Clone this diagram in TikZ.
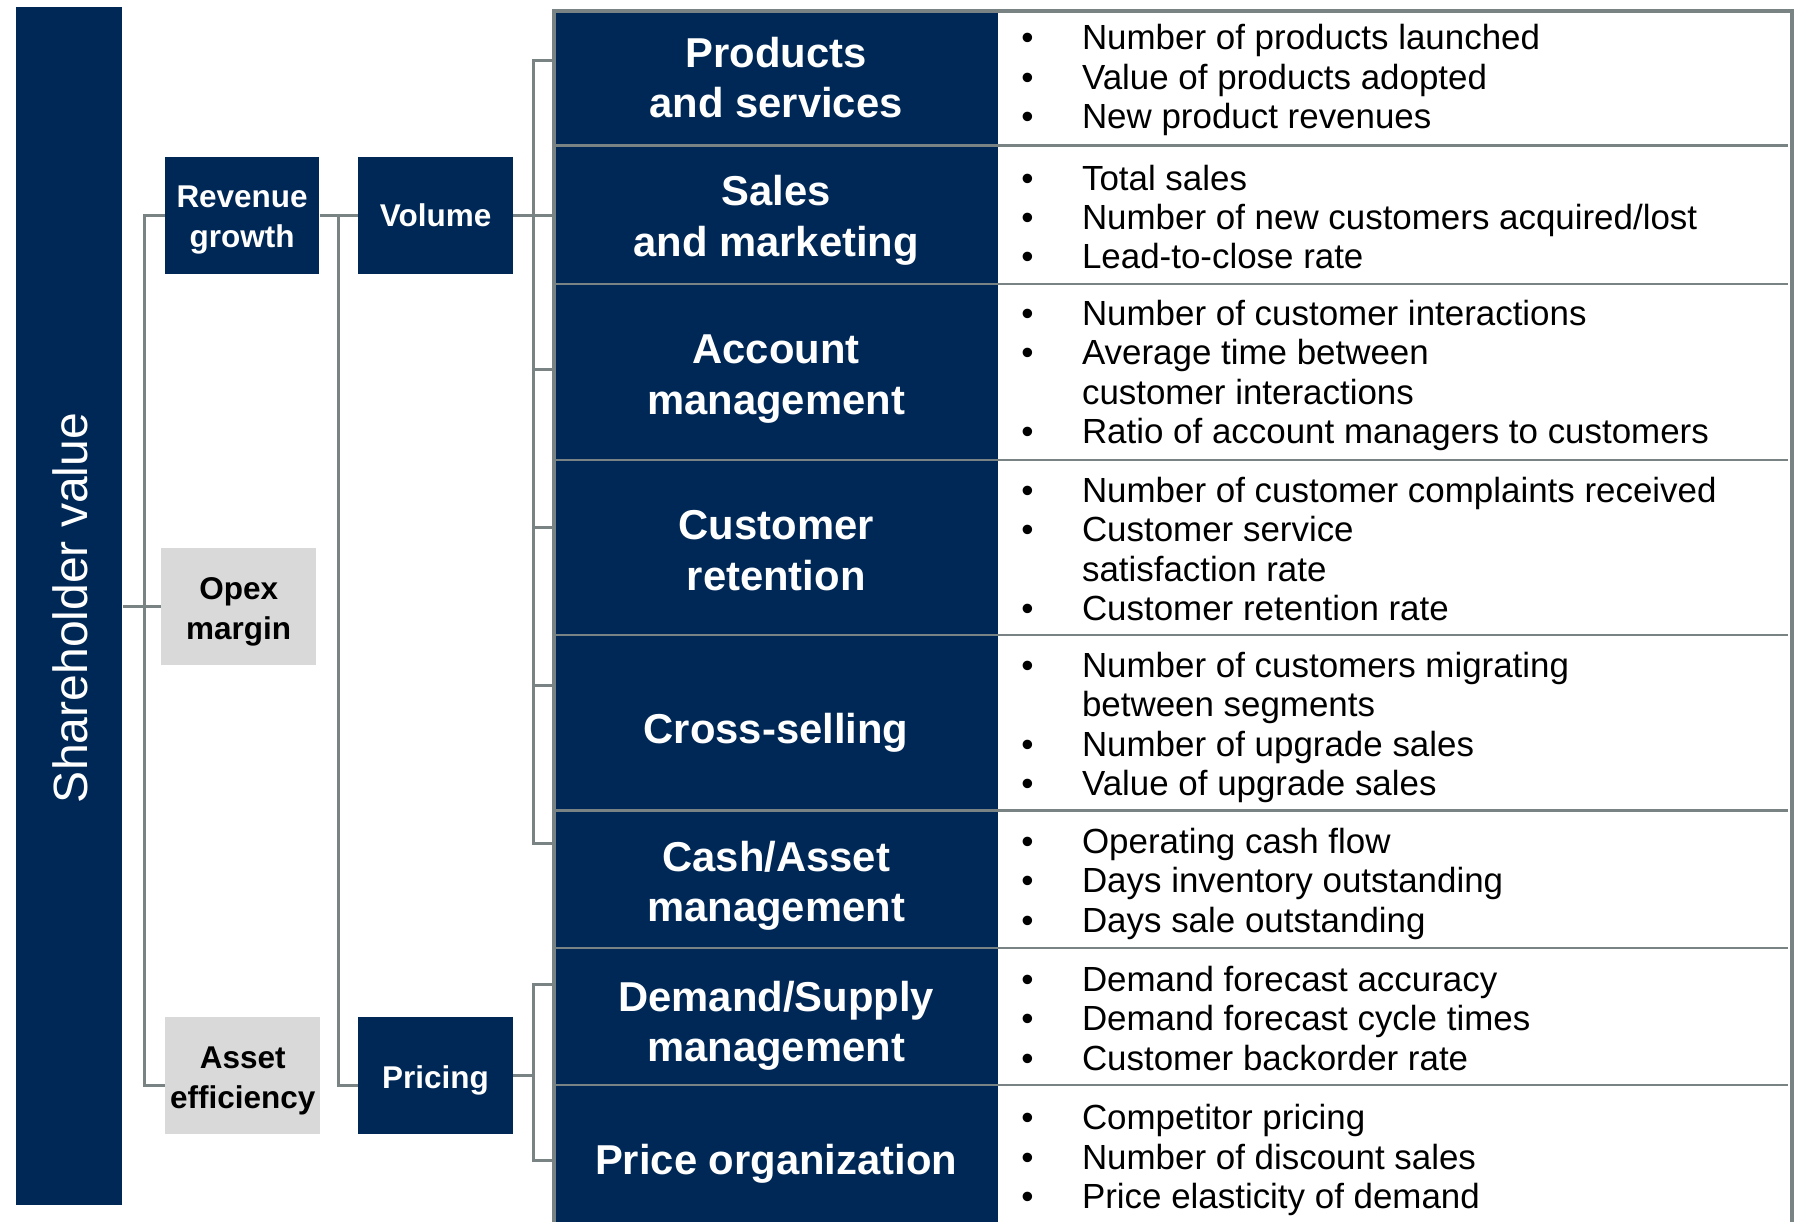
\documentclass[tikz,border=0pt]{standalone}
\usepackage{fontspec}
\setmainfont{Liberation Sans}
\usetikzlibrary{positioning}

\definecolor{navy}{RGB}{0,40,86}
\definecolor{boxgrey}{RGB}{217,217,217}
\definecolor{linegrey}{RGB}{122,131,131}

% bullet line and its indented follow-up line
\newcommand{\bitem}[1]{\makebox[53pt][l]{\textbullet}#1}
\newcommand{\bcont}[1]{\hspace*{53pt}#1}
% box label, set a little low as in the slide
\newcommand{\boxtext}[1]{\raisebox{-4pt}[\height][\depth]{\begin{tabular}{@{}c@{}}#1\end{tabular}}}

\begin{document}
\begin{tikzpicture}[x=1pt,y=-1pt,
    navybox/.style={fill=navy,text=white,inner sep=0pt,align=center,
                    minimum width=135pt,minimum height=102pt,
                    font=\bfseries\fontsize{27.5}{35}\selectfont},
    greybox/.style={navybox,fill=boxgrey,text=black},
    head/.style={text=white,align=center,inner sep=0pt,
                 font=\bfseries\fontsize{36.5}{44}\selectfont},
    items/.style={anchor=west,align=left,inner sep=0pt,
                  font=\fontsize{30.5}{34.3}\selectfont},
    link/.style={draw=linegrey,line width=2.7pt},
    rowline/.style={draw=linegrey,line width=2pt}]

    \useasboundingbox (0,0) rectangle (1568,1067);

    % value tree on the left
    \node[fill=navy,inner sep=0pt,minimum width=93pt,minimum height=1047pt] (sv) at (60.5,529.5) {};
    \node[rotate=90,text=white,font=\fontsize{42}{50}\selectfont] (svlabel) at (61,531) {Shareholder value};

    \node[navybox]  (rev)   at (211.5,188)   {\boxtext{Revenue\\growth}};
    \node[navybox]  (vol)   at (380.5,188)   {Volume};
    \node[greybox]  (opex)  at (208.5,530)   {\boxtext{Opex\\margin}};
    \node[greybox]  (asset) at (212,939.5)   {\boxtext{Asset\\efficiency}};
    \node[navybox]  (price) at (380.5,939.5) {\boxtext{Pricing}};

    % metric table
    \fill[navy] (484,9) rectangle (872,1070);
    \foreach \y in {127,248,402,555,708,828,948}
        \draw[rowline] (484,\y) -- (1562,\y);
    \node[draw=linegrey,line width=3.5pt,inner sep=0pt,minimum width=1081pt,
          minimum height=1070pt,anchor=north west] (tab) at (482.5,8) {};

    \node[head] (h1) at (678,68)    {Products\\and services};
    \node[head] (h2) at (678,192.5) {Sales\\and marketing};
    \node[head] (h3) at (678,331)   {Account\\management};
    \node[head] (h4) at (678,481)   {Customer\\retention};
    \node[head] (h5) at (678,640)   {Cross-selling};
    \node[head] (h6) at (678,773.5) {Cash/Asset\\management};
    \node[head] (h7) at (678,896)   {Demand/Supply\\management};
    \node[head] (h8) at (678,1017)  {Price organization};

    \node[items] (m1) at (892,70) {\bitem{Number of products launched}\\
        \bitem{Value of products adopted}\\ \bitem{New product revenues}};
    \node[items] (m2) at (892,189.5) {\bitem{Total sales}\\
        \bitem{Number of new customers acquired/lost}\\ \bitem{Lead-to-close rate}};
    \node[items] (m3) at (892,328) {\bitem{Number of customer interactions}\\
        \bitem{Average time between}\\ \bcont{customer interactions}\\
        \bitem{Ratio of account managers to customers}};
    \node[items] (m4) at (892,479.5) {\bitem{Number of customer complaints received}\\
        \bitem{Customer service}\\ \bcont{satisfaction rate}\\
        \bitem{Customer retention rate}};
    \node[items] (m5) at (892,635.5) {\bitem{Number of customers migrating}\\
        \bcont{between segments}\\ \bitem{Number of upgrade sales}\\
        \bitem{Value of upgrade sales}};
    \node[items] (m6) at (892,772) {\bitem{Operating cash flow}\\
        \bitem{Days inventory outstanding}\\ \bitem{Days sale outstanding}};
    \node[items] (m7) at (892,889.5) {\bitem{Demand forecast accuracy}\\
        \bitem{Demand forecast cycle times}\\ \bitem{Customer backorder rate}};
    \node[items] (m8) at (892,1013.5) {\bitem{Competitor pricing}\\
        \bitem{Number of discount sales}\\ \bitem{Price elasticity of demand}};

    % connectors
    \draw[link] (sv.east |- opex) -- (opex.west);
    \draw[link] (rev.west) -| (126,948) -- (asset.west |- 0,948);
    \draw[link] (rev.east) -- coordinate (rv) (vol.west);
    \draw[link] (rv) |- (price.west |- 0,948);
    \draw[link] (vol.east) -- ++(18,0) coordinate (vc);
    \draw[link] (tab.west |- 0,53) -| (vc |- 0,737) -- (tab.west |- 0,737);
    \foreach \y in {188,323,461,599}
        \draw[link] (vc |- 0,\y) -- (tab.west |- 0,\y);
    \draw[link] (price.east) -- ++(18,0) coordinate (pc);
    \draw[link] (tab.west |- 0,860) -| (pc |- 0,1014) -- (tab.west |- 0,1014);
\end{tikzpicture}
\end{document}
